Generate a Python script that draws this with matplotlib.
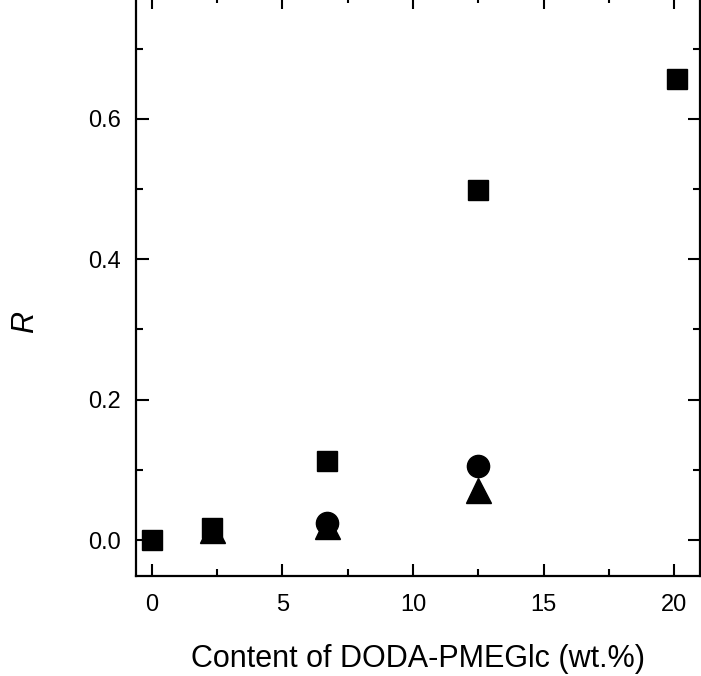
import matplotlib
matplotlib.use('Agg')
import matplotlib.pyplot as plt
from matplotlib.ticker import MultipleLocator

plt.rcParams['font.family'] = ['Liberation Sans', 'DejaVu Sans']

# content of DODA-PMEGlc (wt.%)
x_sq = [0, 2.3, 6.7, 12.5, 20.1]
r_sq = [0.0, 0.017, 0.113, 0.499, 0.657]

x_ci = [6.7, 12.5]
r_ci = [0.024, 0.106]

x_tr = [2.3, 6.7, 12.5]
r_tr = [0.014, 0.020, 0.071]

fig = plt.figure(figsize=(7.01, 6.76), dpi=100)
ax = fig.add_axes([0.194, 0.148, 0.805, 0.858])

ax.plot(x_tr, r_tr, '^', color='black', markersize=18, linestyle='none')
ax.plot(x_ci, r_ci, 'o', color='black', markersize=16, linestyle='none')
ax.plot(x_sq, r_sq, 's', color='black', markersize=15, linestyle='none')

ax.set_xlim(-0.6, 21.0)
ax.set_ylim(-0.051, 0.775)

ax.xaxis.set_major_locator(MultipleLocator(5))
ax.xaxis.set_minor_locator(MultipleLocator(2.5))
ax.yaxis.set_major_locator(MultipleLocator(0.2))
ax.yaxis.set_minor_locator(MultipleLocator(0.1))
ax.yaxis.set_major_formatter(plt.FuncFormatter(lambda v, p: '%.1f' % v))

ax.tick_params(which='both', direction='in', top=True, right=True, width=1.5)
ax.tick_params(which='major', length=9, labelsize=17)
ax.tick_params(which='minor', length=5)
ax.tick_params(axis='x', which='major', pad=13)
ax.tick_params(axis='y', which='major', pad=11)

for s in ax.spines.values():
    s.set_linewidth(1.6)

ax.set_xlabel('Content of DODA-PMEGlc (wt.%)', fontsize=22, labelpad=20)
ax.set_ylabel('R', fontsize=22, style='italic')
ax.yaxis.set_label_coords(-0.17, 0.438)

fig.savefig('out.png', dpi=100)
